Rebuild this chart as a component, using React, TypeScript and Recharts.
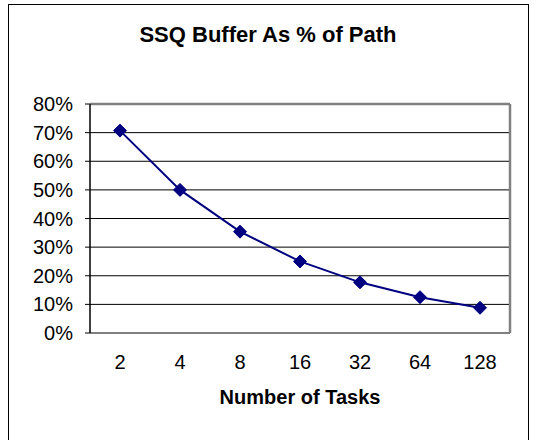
import { LineChart, Line, XAxis, YAxis, CartesianGrid, Label, ReferenceLine } from 'recharts'

const tasks = ['2', '4', '8', '16', '32', '64', '128']
const bufferPct = [70.7, 50, 35.4, 25, 17.7, 12.5, 8.8]
const yTicks = [0, 10, 20, 30, 40, 50, 60, 70, 80]
// boundaries between categories, where Excel puts its tick marks
const bandEdges = [0, 1, 2, 3, 4, 5, 6, 7]
const bandCenters = tasks.map((_, i) => i + 0.5)

const data = tasks.map((t, i) => ({ x: i + 0.5, label: t, v: bufferPct[i] }))

const font = 'Arial, "Liberation Sans", sans-serif'

function Diamond(props: any) {
  const { cx, cy } = props
  if (cx == null || cy == null) return null
  const r = 6.5
  return (
    <path
      d={`M${cx},${cy - r} L${cx + r},${cy} L${cx},${cy + r} L${cx - r},${cy} Z`}
      fill="#000080"
      stroke="#000080"
    />
  )
}

export default function App() {
  return (
    <div style={{ position: 'absolute', left: 0, top: 0, width: 536, height: 440, background: '#fff', fontFamily: font }}>
      <div
        style={{
          position: 'absolute', left: 8, top: 4, width: 521, height: 450,
          border: '1px solid #000', boxSizing: 'border-box',
        }}
      />
      <div
        style={{
          position: 'absolute', left: 0, top: 22, width: 536, textAlign: 'center',
          fontSize: 22, fontWeight: 'bold', color: '#000',
        }}
      >
        SSQ Buffer As % of Path
      </div>
      <div style={{ position: 'absolute', left: 0, top: 0 }}>
        <LineChart
          width={536}
          height={440}
          data={data}
          margin={{ top: 104, right: 26, bottom: 25, left: 30 }}
        >
          <CartesianGrid horizontal vertical={false} stroke="#000" strokeWidth={1} />
          <XAxis
            xAxisId="edges"
            dataKey="x"
            type="number"
            domain={[0, 7]}
            ticks={bandEdges}
            tick={false}
            tickSize={6}
            height={0}
            axisLine={{ stroke: '#000', strokeWidth: 1.5 }}
            tickLine={{ stroke: '#000' }}
          />
          <XAxis
            xAxisId="labels"
            dataKey="x"
            type="number"
            domain={[0, 7]}
            ticks={bandCenters}
            tickFormatter={(v: number) => tasks[Math.round(v - 0.5)]}
            axisLine={false}
            tickLine={false}
            tickSize={0}
            tickMargin={22}
            height={82}
            tick={{ fill: '#000', fontSize: 20, fontFamily: font }}
          >
            <Label
              value="Number of Tasks"
              position="insideTop"
              offset={57}
              style={{ fill: '#000', fontSize: 20, fontWeight: 'bold', fontFamily: font }}
            />
          </XAxis>
          <YAxis
            domain={[0, 80]}
            ticks={yTicks}
            width={60}
            tickSize={5}
            tickMargin={12}
            tickFormatter={(v: number) => `${v}%`}
            axisLine={{ stroke: '#000', strokeWidth: 1.5 }}
            tickLine={{ stroke: '#000' }}
            tick={{ fill: '#000', fontSize: 20, fontFamily: font }}
          />
          <ReferenceLine y={80} stroke="#808080" strokeWidth={2.5} />
          <ReferenceLine xAxisId="edges" x={7} stroke="#808080" strokeWidth={2.5} />
          <Line
            xAxisId="edges"
            dataKey="v"
            stroke="#000080"
            strokeWidth={2}
            dot={<Diamond />}
            activeDot={false}
            isAnimationActive={false}
          />
        </LineChart>
      </div>
    </div>
  )
}
